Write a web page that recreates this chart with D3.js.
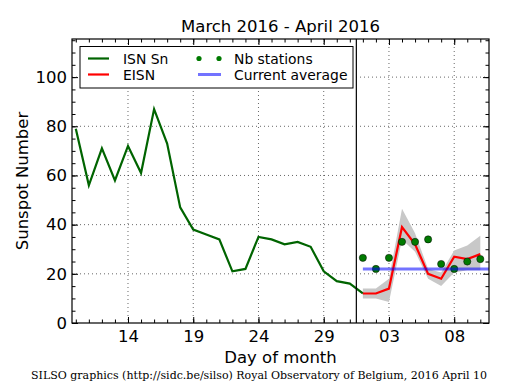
<!DOCTYPE html>
<html>
<head>
<meta charset="utf-8">
<script src="https://cdn.jsdelivr.net/npm/d3@7"></script>
<style>
  body { margin: 0; background: #fff; }
  svg { display: block; font-family: "DejaVu Sans", sans-serif; }
</style>
</head>
<body>
<svg id="chart" width="515" height="390"></svg>
<script>
// daily ISN from 10 March to 1 April 2016
const isnStart = Date.UTC(2016, 2, 10);
const isnValues = [79, 56, 71, 58, 72, 61, 87, 73, 47, 38, 36, 34, 21, 22, 35, 34, 32, 33, 31, 21, 17, 16, 12];

// estimated ISN from 1 to 10 April 2016
const eisnStart = Date.UTC(2016, 3, 1);
const eisnValues = [12, 12, 14, 39, 32, 20, 18, 27, 26, 28];
const eisnLow = [10, 10, 8.5, 34, 29, 18, 15, 20.5, 21.5, 21.5];
const eisnHigh = [14, 14, 18, 46.5, 36.5, 22, 20.5, 29.5, 31.5, 35.5];
const stations = [26.5, 22, 26.5, 33, 33, 34, 24, 22, 25, 26];
const currentAverage = 22;

const tickDays = [
  Date.UTC(2016, 2, 14), Date.UTC(2016, 2, 19), Date.UTC(2016, 2, 24),
  Date.UTC(2016, 2, 29), Date.UTC(2016, 3, 3), Date.UTC(2016, 3, 8)
];
const yTicks = [0, 20, 40, 60, 80, 100];

const day = 864e5;
const isn = isnValues.map((v, i) => ({ date: new Date(isnStart + i * day), v }));
const eisn = eisnValues.map((v, i) => ({
  date: new Date(eisnStart + i * day), v, lo: eisnLow[i], hi: eisnHigh[i], st: stations[i]
}));

const svg = d3.select('#chart');
const margin = { top: 39, right: 26, bottom: 67, left: 72 };
const width = 515 - margin.left - margin.right;
const height = 390 - margin.top - margin.bottom;

const x = d3.scaleUtc()
  .domain([new Date(Date.UTC(2016, 2, 9, 17)), new Date(Date.UTC(2016, 3, 10, 16))])
  .range([0, width]);
const y = d3.scaleLinear().domain([0, 115.5]).range([height, 0]);

const g = svg.append('g').attr('transform', `translate(${margin.left},${margin.top})`);

// grid
g.append('g').selectAll('line').data(tickDays).join('line')
  .attr('x1', d => x(d)).attr('x2', d => x(d)).attr('y1', 0).attr('y2', height)
  .attr('stroke', '#000').attr('stroke-width', 0.6).attr('stroke-dasharray', '1,3');
g.append('g').selectAll('line').data(yTicks.slice(1)).join('line')
  .attr('x1', 0).attr('x2', width).attr('y1', d => y(d)).attr('y2', d => y(d))
  .attr('stroke', '#000').attr('stroke-width', 0.6).attr('stroke-dasharray', '1,3');

// uncertainty band
g.append('path').datum(eisn)
  .attr('fill', '#c8c8c8')
  .attr('d', d3.area().x(d => x(d.date)).y0(d => y(d.lo)).y1(d => y(d.hi)));

g.append('path').datum(isn)
  .attr('fill', 'none').attr('stroke', '#006400').attr('stroke-width', 2.2)
  .attr('d', d3.line().x(d => x(d.date)).y(d => y(d.v)));

g.append('path').datum(eisn)
  .attr('fill', 'none').attr('stroke', '#ff0000').attr('stroke-width', 2.2)
  .attr('d', d3.line().x(d => x(d.date)).y(d => y(d.v)));

g.append('g').selectAll('circle').data(eisn).join('circle')
  .attr('cx', d => x(d.date)).attr('cy', d => y(d.st)).attr('r', 3.6)
  .attr('fill', '#007a00').attr('stroke', '#000').attr('stroke-width', 0.5);

g.append('line')
  .attr('x1', x(new Date(eisnStart))).attr('x2', width)
  .attr('y1', y(currentAverage)).attr('y2', y(currentAverage))
  .attr('stroke', '#0000ff').attr('stroke-opacity', 0.55).attr('stroke-width', 3);

// separation between ISN and EISN
const sep = x(new Date(eisnStart - day / 2));
g.append('line').attr('x1', sep).attr('x2', sep).attr('y1', 0).attr('y2', height)
  .attr('stroke', '#000').attr('stroke-width', 1.2);

// axes with inward ticks on all four sides
const minorDays = d3.utcDay.range(x.domain()[0], x.domain()[1]);
const minorY = d3.range(0, 116, 5);
function axisStyle(sel) {
  sel.select('.domain').remove();
  sel.selectAll('line').attr('stroke', '#000');
  sel.selectAll('text').attr('font-size', 16.5).attr('fill', '#000')
    .attr('font-family', '"DejaVu Sans", sans-serif');
}
g.append('g').attr('transform', `translate(0,${height})`)
  .call(d3.axisBottom(x).tickValues(minorDays).tickSize(-3.5).tickFormat(''))
  .call(axisStyle);
g.append('g').call(d3.axisTop(x).tickValues(minorDays).tickSize(-3.5).tickFormat(''))
  .call(axisStyle);
g.append('g').attr('transform', `translate(0,${height})`)
  .call(d3.axisBottom(x).tickValues(tickDays.map(d => new Date(d))).tickSize(-6)
    .tickPadding(7).tickFormat(d3.utcFormat('%d')))
  .call(axisStyle);
g.append('g').call(d3.axisTop(x).tickValues(tickDays.map(d => new Date(d))).tickSize(-6).tickFormat(''))
  .call(axisStyle);
g.append('g').call(d3.axisLeft(y).tickValues(minorY).tickSize(-3.5).tickFormat(''))
  .call(axisStyle);
g.append('g').attr('transform', `translate(${width},0)`)
  .call(d3.axisRight(y).tickValues(minorY).tickSize(-3.5).tickFormat(''))
  .call(axisStyle);
g.append('g').call(d3.axisLeft(y).tickValues(yTicks).tickSize(-6).tickPadding(5))
  .call(axisStyle);
g.append('g').attr('transform', `translate(${width},0)`)
  .call(d3.axisRight(y).tickValues(yTicks).tickSize(-6).tickFormat(''))
  .call(axisStyle);

g.append('rect').attr('width', width).attr('height', height)
  .attr('fill', 'none').attr('stroke', '#000').attr('stroke-width', 1.2);

// legend
const lg = g.append('g').attr('transform', 'translate(8,7.5)');
lg.append('rect').attr('width', 273).attr('height', 41.5)
  .attr('fill', '#fff').attr('stroke', '#000').attr('stroke-width', 1);
const legendFont = 13.9;
lg.append('line').attr('x1', 8).attr('x2', 29).attr('y1', 12).attr('y2', 12)
  .attr('stroke', '#006400').attr('stroke-width', 2.2);
lg.append('line').attr('x1', 8).attr('x2', 29).attr('y1', 28).attr('y2', 28)
  .attr('stroke', '#ff0000').attr('stroke-width', 2.2);
lg.append('circle').attr('cx', 119).attr('cy', 12).attr('r', 2.6).attr('fill', '#007a00');
lg.append('circle').attr('cx', 139).attr('cy', 12).attr('r', 2.6).attr('fill', '#007a00');
lg.append('line').attr('x1', 118).attr('x2', 141).attr('y1', 28).attr('y2', 28)
  .attr('stroke', '#0000ff').attr('stroke-opacity', 0.55).attr('stroke-width', 3);
const legendText = [
  ['ISN Sn', 43, 12], ['EISN', 43, 28], ['Nb stations', 154, 12], ['Current average', 154, 28]
];
lg.selectAll('text.lt').data(legendText).join('text')
  .attr('x', d => d[1]).attr('y', d => d[2]).attr('dy', '0.36em')
  .attr('font-size', legendFont).text(d => d[0]);

// titles
svg.append('text').attr('x', margin.left + width / 2).attr('y', 32)
  .attr('text-anchor', 'middle').attr('font-size', 16.5).text('March 2016 - April 2016');
svg.append('text').attr('x', margin.left + width / 2).attr('y', 363)
  .attr('text-anchor', 'middle').attr('font-size', 16.5).text('Day of month');
svg.append('text').attr('transform', `translate(28,${margin.top + height / 2}) rotate(-90)`)
  .attr('text-anchor', 'middle').attr('font-size', 16.5).text('Sunspot Number');
svg.append('text').attr('x', 259).attr('y', 379)
  .attr('text-anchor', 'middle').attr('font-size', 11)
  .attr('font-family', '"DejaVu Serif", serif')
  .text('SILSO graphics (http://sidc.be/silso) Royal Observatory of Belgium, 2016 April 10');
</script>
</body>
</html>
